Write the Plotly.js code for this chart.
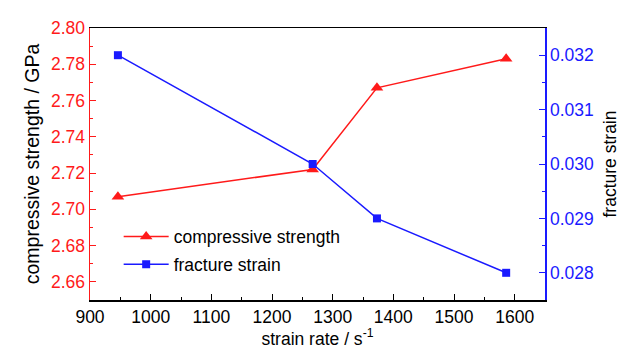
<!DOCTYPE html>
<html>
<head>
<meta charset="utf-8">
<script src="https://cdn.plot.ly/plotly-3.0.1.min.js"></script>
<style>html,body{margin:0;padding:0;background:#fff;}#chart{width:625px;height:351px;}</style>
</head>
<body>
<div id="chart"></div>
<script>
const strainRate = [946, 1267, 1373, 1586];
const compressiveStrength = [2.707, 2.722, 2.767, 2.783];
const fractureStrain = [0.0320, 0.0300, 0.0290, 0.0280];
const seriesNames = ["compressive strength", "fracture strain"];

const FONT = "'Liberation Sans', Arial, sans-serif";
const FS = 17.5;
const RED = "#ff1a1a";
const BLUE = "#1a1aff";

const traces = [
  {
    x: strainRate, y: compressiveStrength, name: seriesNames[0],
    type: "scatter", mode: "lines+markers", legendgroup: "a",
    line: {color: RED, width: 1.5},
    marker: {symbol: "triangle-up", size: 11, color: RED},
    yaxis: "y"
  },
  {
    x: strainRate, y: fractureStrain, name: seriesNames[1],
    type: "scatter", mode: "lines+markers", legendgroup: "b",
    line: {color: BLUE, width: 1.5},
    marker: {symbol: "square", size: 8, color: BLUE},
    yaxis: "y2"
  }
];

const layout = {
  width: 625, height: 351,
  margin: {l: 90, r: 80, t: 28, b: 51, pad: 0},
  paper_bgcolor: "#fff", plot_bgcolor: "#fff",
  font: {family: FONT, size: FS, color: "#000"},
  showlegend: true,
  legend: {
    x: 0.063, y: 0.299, xanchor: "left", yanchor: "top",
    bgcolor: "rgba(0,0,0,0)", itemwidth: 45,
    traceorder: "grouped", tracegroupgap: 2,
    font: {family: FONT, size: FS, color: "#000"}
  },
  xaxis: {
    range: [900, 1650], dtick: 100, tick0: 900,
    showline: true, linecolor: "#000", linewidth: 1.5, mirror: true,
    ticks: "inside", ticklen: 6, tickcolor: "#000", tickwidth: 1,
    minor: {ticks: "inside", dtick: 50, ticklen: 3, tickcolor: "#000"},
    showgrid: false, zeroline: false,
    tickfont: {family: FONT, size: FS, color: "#000"},
    title: {text: "strain rate / s<sup>-1</sup>", font: {family: FONT, size: FS, color: "#000"}, standoff: 6}
  },
  yaxis: {
    range: [2.65, 2.80], dtick: 0.02, tick0: 2.66, tickformat: ".2f",
    showline: true, linecolor: RED, linewidth: 1.5,
    ticks: "inside", ticklen: 6, tickcolor: RED, tickwidth: 1,
    minor: {ticks: "inside", dtick: 0.01, ticklen: 3, tickcolor: RED},
    showgrid: false, zeroline: false,
    tickfont: {family: FONT, size: FS, color: RED},
    title: {text: "compressive strength / GPa", font: {family: FONT, size: 19.5, color: "#000"}, standoff: 6}
  },
  yaxis2: {
    overlaying: "y", side: "right",
    range: [0.0275, 0.0325], dtick: 0.001, tick0: 0.028, tickformat: ".3f",
    showline: true, linecolor: BLUE, linewidth: 1.5,
    ticks: "inside", ticklen: 6, tickcolor: BLUE, tickwidth: 1,
    minor: {ticks: "inside", dtick: 0.0005, ticklen: 3, tickcolor: BLUE},
    showgrid: false, zeroline: false,
    tickfont: {family: FONT, size: FS, color: BLUE},
    title: {text: "fracture strain", font: {family: FONT, size: FS, color: "#000"}, standoff: 10}
  }
};

Plotly.newPlot("chart", traces, layout, {staticPlot: true, displayModeBar: false});
</script>
</body>
</html>
